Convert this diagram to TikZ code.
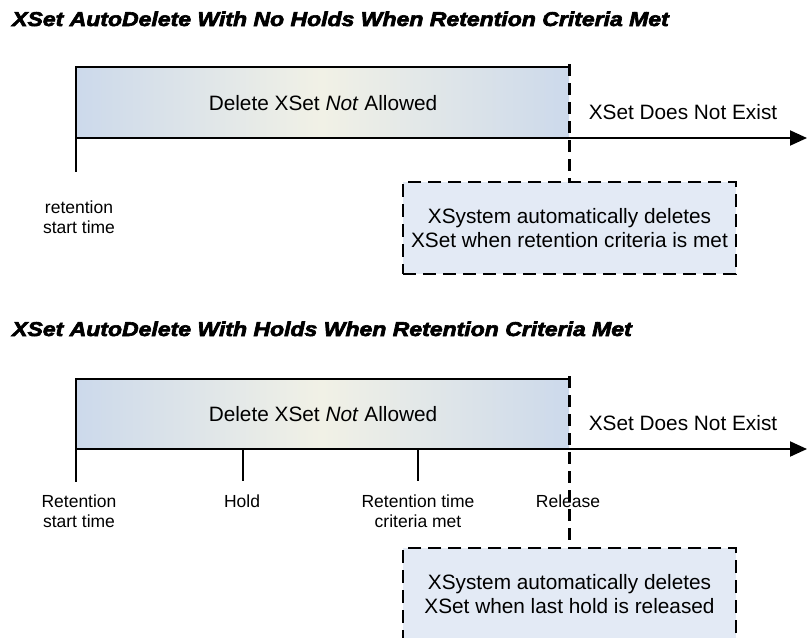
\documentclass[tikz,border=0pt]{standalone}
\usepackage{fontspec}
\setmainfont{Liberation Sans}
\newfontfamily\titlefont[FakeBold=3]{Liberation Sans}
\usetikzlibrary{arrows.meta}
\definecolor{barside}{HTML}{CCD9EB}
\definecolor{barmid}{HTML}{F1F1E6}
\definecolor{boxfill}{HTML}{E3EAF5}
\tikzset{
  bar/.style={left color=barside, right color=barside, middle color=barmid, draw=none},
  frame/.style={line width=2pt, line cap=rect},
  axisline/.style={line width=2pt, -{Triangle[length=17pt,width=15pt]}},
  thintick/.style={line width=1.3pt},
  dashline/.style={line width=2.3pt, dash pattern=on 12pt off 7pt},
  notebox/.style={draw, line width=2.5pt, dash pattern=on 13pt off 7pt, fill=boxfill,
    minimum width=333pt, minimum height=92pt, inner sep=0pt, align=center,
    font=\fontsize{20.8}{23.5}\selectfont},
  bigtext/.style={inner sep=0pt, font=\fontsize{20.8}{24}\selectfont},
  ticklabel/.style={inner sep=0pt, align=center, anchor=base, font=\fontsize{17.5}{20}\selectfont},
  titletext/.style={inner sep=0pt, anchor=base west, font=\titlefont\bfseries\itshape\fontsize{20}{24}\selectfont}
}
\begin{document}
\begin{tikzpicture}[x=1pt,y=-1pt]
\useasboundingbox (0,0) rectangle (807,638);
\clip (0,0) rectangle (807,638);

% ---------- Panel 1 ----------
\node[titletext] (t1) at (12,26) {\scalebox{1.15}[1]{XSet AutoDelete With No Holds When Retention Criteria Met}};
\fill[bar] (76,67) rectangle (569,138);
\coordinate (p1tl) at (76,67);
\coordinate (p1tr) at (569,67);
\coordinate (p1tick) at (76,171);
\coordinate (p1ax) at (76,138);
\coordinate (p1end) at (807,138);
\coordinate (p1dash) at (569.5,64);
\draw[frame] (p1tr) -- (p1tl) -- (p1tick);
\draw[axisline] (p1ax) -- (p1end);
\node[bigtext] (n1) at (323,103) {Delete XSet \textit{Not} Allowed};
\node[bigtext] (e1) at (683,112) {XSet Does Not Exist};
\node[ticklabel] (l1) at (79,233) {retention\\start time};
\node[notebox] (box1) at (569.5,228) {XSystem automatically deletes\\XSet when retention criteria is met};
\draw[dashline] (p1dash) -- (box1.north);

% ---------- Panel 2 ----------
\node[titletext] (t2) at (12,336) {\scalebox{1.15}[1]{XSet AutoDelete With Holds When Retention Criteria Met}};
\fill[bar] (76,379) rectangle (569,449);
\coordinate (p2tl) at (76,379);
\coordinate (p2tr) at (569,379);
\coordinate (p2tick) at (76,481);
\coordinate (p2ax) at (76,449);
\coordinate (p2end) at (807,449);
\coordinate (p2dash) at (569.5,376);
\coordinate (h1) at (243,449);
\coordinate (h1b) at (243,481);
\coordinate (h2) at (418,449);
\coordinate (h2b) at (418,481);
\draw[frame] (p2tr) -- (p2tl) -- (p2tick);
\draw[axisline] (p2ax) -- (p2end);
\draw[thintick] (h1) -- (h1b);
\draw[thintick] (h2) -- (h2b);
\node[bigtext] (n2) at (323,414) {Delete XSet \textit{Not} Allowed};
\node[bigtext] (e2) at (683,423.5) {XSet Does Not Exist};
\node[ticklabel] (l2) at (79,527) {Retention\\start time};
\node[ticklabel] (l3) at (242,507) {Hold};
\node[ticklabel] (l4) at (418,527) {Retention time\\criteria met};
\node[ticklabel] (l5) at (568,507) {Release};
\node[notebox] (box2) at (569.5,594) {XSystem automatically deletes\\XSet when last hold is released};
\draw[dashline] (p2dash) -- (box2.north);
\end{tikzpicture}
\end{document}
